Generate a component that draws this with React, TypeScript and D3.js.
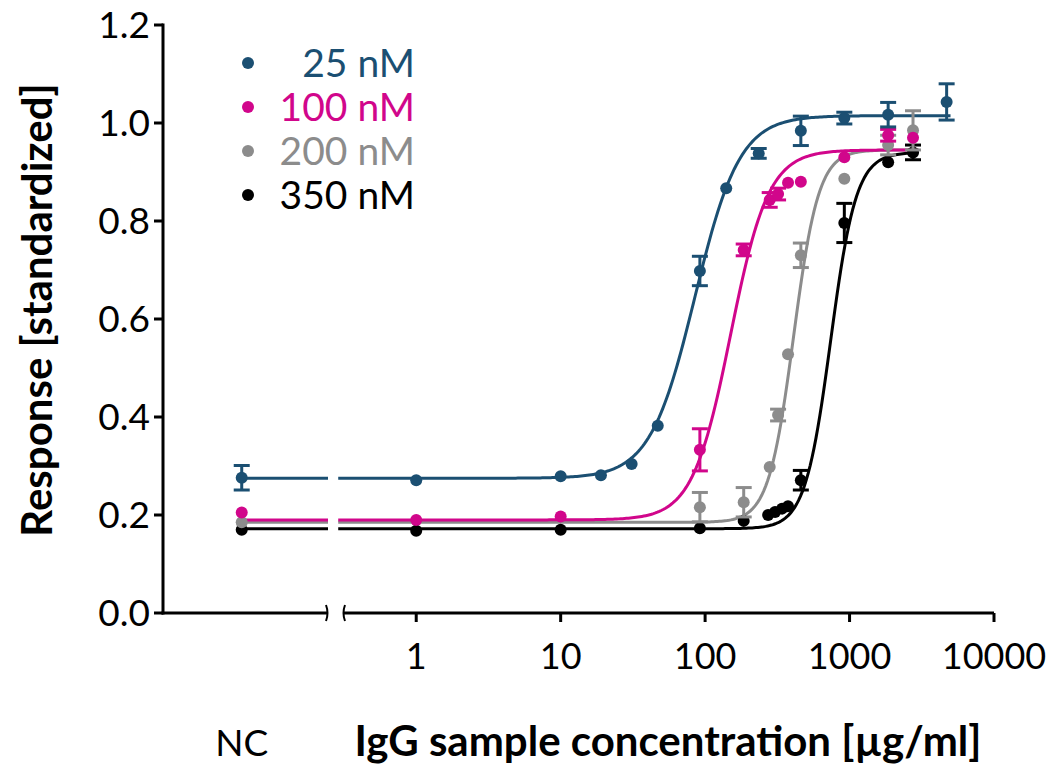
import * as d3 from "d3";

// x positions: "NC" for negative control, otherwise µg/ml
type Pt = { x: number | "NC"; y: number; err: number };

const seriesNames = ["25 nM", "100 nM", "200 nM", "350 nM"];
const seriesColors = ["#1b4f72", "#d1068b", "#8c8c8c", "#000000"];

// [conc, response, error]
const blueData: [number | "NC", number, number][] = [
  ["NC", 0.276, 0.025], [1, 0.271, 0], [10, 0.279, 0], [19, 0.281, 0], [31, 0.304, 0],
  [47, 0.382, 0], [92, 0.698, 0.03], [140, 0.867, 0], [235, 0.938, 0.01],
  [460, 0.984, 0.03], [920, 1.01, 0.012], [1850, 1.017, 0.025], [4700, 1.043, 0.037],
];
const magentaData: [number | "NC", number, number][] = [
  ["NC", 0.205, 0], [1, 0.19, 0], [10, 0.197, 0], [92, 0.333, 0.043], [185, 0.741, 0.012],
  [280, 0.843, 0.015], [320, 0.855, 0.012], [375, 0.878, 0], [460, 0.88, 0],
  [920, 0.93, 0], [1850, 0.975, 0.012], [2750, 0.97, 0],
];
const grayData: [number | "NC", number, number][] = [
  ["NC", 0.185, 0], [92, 0.216, 0.03], [185, 0.226, 0.03], [280, 0.298, 0],
  [320, 0.404, 0.012], [375, 0.528, 0], [460, 0.73, 0.025], [920, 0.886, 0],
  [1850, 0.955, 0.02], [2750, 0.985, 0.04],
];
const blackData: [number | "NC", number, number][] = [
  ["NC", 0.17, 0], [1, 0.168, 0], [10, 0.17, 0], [92, 0.173, 0], [185, 0.188, 0],
  [273, 0.2, 0], [305, 0.206, 0], [341, 0.213, 0], [375, 0.218, 0],
  [460, 0.271, 0.02], [920, 0.796, 0.04], [1850, 0.92, 0], [2750, 0.94, 0.015],
];
const allData = [blueData, magentaData, grayData, blackData];

// fitted 4PL curves: bottom, top, EC50, hill, last concentration
const fitBottom = [0.275, 0.19, 0.185, 0.172];
const fitTop = [1.015, 0.945, 0.945, 0.94];
const fitEC50 = [85, 150, 410, 740];
const fitHill = [2.8, 3.3, 5.0, 4.9];
const fitMax = [5000, 3000, 3000, 3000];

const yTicks = [0, 0.2, 0.4, 0.6, 0.8, 1.0, 1.2];
const xTicks = [1, 10, 100, 1000, 10000];

const W = 1064;
const H = 768;
const FONT = "Lato, 'Open Sans', sans-serif";

export default function App() {
  const left = 163;
  const ncRight = 327;
  const logLeft = 344;
  const right = 994;
  const top = 25;
  const bottom = 613;

  const y = d3.scaleLinear().domain([0, 1.2]).range([bottom, top]);
  const x = d3.scaleLog().domain([Math.pow(10, -0.5), 10000]).range([logLeft, right]);
  const nc = d3.scalePoint<string>().domain(["NC"]).range([left, ncRight]).padding(0.5).align(0.48);

  const px = (v: number | "NC") => (v === "NC" ? (nc("NC") as number) : x(v));

  const curves = fitBottom.map((b, i) => {
    const t = fitTop[i];
    const f = (c: number) => b + (t - b) / (1 + Math.pow(fitEC50[i] / c, fitHill[i]));
    const lo = Math.log10(x.domain()[0]) - 0.04;
    const hi = Math.log10(fitMax[i]);
    const pts = d3.range(0, 301).map((k) => {
      const c = Math.pow(10, lo + ((hi - lo) * k) / 300);
      return [x(c), y(f(c))] as [number, number];
    });
    return { path: d3.line()(pts) as string, base: y(b) };
  });

  const points: Pt[][] = allData.map((arr) => arr.map(([cx, cy, e]) => ({ x: cx, y: cy, err: e })));
  const drawOrder = [3, 2, 1, 0];

  return (
    <svg width={W} height={H} style={{ position: "absolute", left: 0, top: 0, background: "#fff" }}
      fontFamily={FONT}>
      {/* curves */}
      {drawOrder.map((i) => (
        <g key={"c" + i} stroke={seriesColors[i]} strokeWidth={3} fill="none">
          <line x1={nc("NC")} x2={ncRight + 1} y1={curves[i].base} y2={curves[i].base} />
          <path d={curves[i].path} />
        </g>
      ))}
      {/* points and error bars */}
      {drawOrder.map((i) => (
        <g key={"p" + i} fill={seriesColors[i]} stroke={seriesColors[i]}>
          {points[i].map((p, k) => {
            const cx = px(p.x);
            const cy = y(p.y);
            return (
              <g key={k}>
                {p.err > 0 && (
                  <g strokeWidth={3}>
                    <line x1={cx} x2={cx} y1={y(p.y - p.err)} y2={y(p.y + p.err)} />
                    <line x1={cx - 8} x2={cx + 8} y1={y(p.y - p.err)} y2={y(p.y - p.err)} />
                    <line x1={cx - 8} x2={cx + 8} y1={y(p.y + p.err)} y2={y(p.y + p.err)} />
                  </g>
                )}
                <circle cx={cx} cy={cy} r={6} stroke="none" />
              </g>
            );
          })}
        </g>
      ))}

      {/* y axis */}
      <g stroke="#000" strokeWidth={3}>
        <line x1={left} x2={left} y1={top - 1.5} y2={bottom + 1.5} />
        {yTicks.map((t) => (
          <line key={t} x1={left - 9} x2={left} y1={y(t)} y2={y(t)} />
        ))}
      </g>
      {yTicks.map((t) => (
        <text key={t} x={left - 13} y={y(t)} dy="0.36em" textAnchor="end" fontSize={37} fill="#000">
          {d3.format(".1f")(t)}
        </text>
      ))}

      {/* x axis, broken */}
      <g stroke="#000" strokeWidth={3} fill="none">
        <line x1={left - 1.5} x2={ncRight} y1={bottom} y2={bottom} />
        <path d={`M${ncRight - 1},${bottom - 8} Q${ncRight + 2},${bottom} ${ncRight - 1},${bottom + 8}`} strokeWidth={2} />
        <line x1={logLeft} x2={right} y1={bottom} y2={bottom} />
        <path d={`M${logLeft + 1},${bottom - 8} Q${logLeft - 2},${bottom} ${logLeft + 1},${bottom + 8}`} strokeWidth={2} />
        {xTicks.map((t) => (
          <line key={t} x1={x(t)} x2={x(t)} y1={bottom} y2={bottom + 9} />
        ))}
      </g>
      {xTicks.map((t) => (
        <text key={t} x={x(t)} y={bottom + 56} textAnchor="middle" fontSize={36} fill="#000">
          {t}
        </text>
      ))}

      {/* axis titles */}
      <text x={nc("NC")} y={756} textAnchor="middle" fontSize={37} fill="#000">NC</text>
      <text x={668} y={756} textAnchor="middle" fontSize={42} fontWeight="bold" fill="#000">
        IgG sample concentration [µg/ml]
      </text>
      <text transform="translate(52,310) rotate(-90)" textAnchor="middle" fontSize={42} fontWeight="bold" fill="#000">
        Response [standardized]
      </text>

      {/* legend */}
      {seriesNames.map((s, i) => (
        <g key={s}>
          <circle cx={248} cy={63 + i * 44} r={6} fill={seriesColors[i]} />
          <text x={415} y={63 + i * 44} dy="0.36em" textAnchor="end" fontSize={39} fill={seriesColors[i]}>
            {s}
          </text>
        </g>
      ))}
    </svg>
  );
}
